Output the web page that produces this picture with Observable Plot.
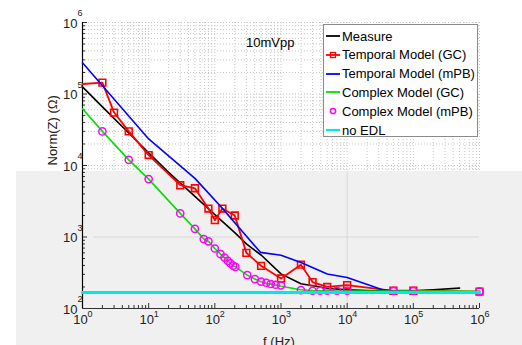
<!DOCTYPE html>
<html><head><meta charset="utf-8">
<script src="https://cdn.jsdelivr.net/npm/d3@7"></script>
<script src="https://cdn.jsdelivr.net/npm/@observablehq/plot@0.6"></script>
<style>
body{margin:0;background:#fff;font-family:"Liberation Sans",Arial,Helvetica,sans-serif;}
#wrap{position:relative;width:522px;height:345px;overflow:hidden;}
#gray{position:absolute;left:16px;top:171px;right:0;bottom:0;background:#f0f0f0;}
#chart{position:absolute;left:0;top:0;}
#title{position:absolute;left:246px;top:35px;font-size:13px;line-height:16px;color:#000;}
#legend{position:absolute;left:323px;top:24px;width:153px;height:111px;background:#fff;border:1px solid #8a8a8a;}
.row{position:absolute;left:2px;height:18px;display:flex;align-items:center;font-size:13px;color:#000;white-space:nowrap;}
.row svg{margin-right:2px;}
</style></head><body>
<div id="wrap"><div id="gray"></div><div id="chart"></div><div id="title">10mVpp</div><div id="legend"></div></div>
<script>
// ---- data ----
const measureF = [1, 2, 5, 10, 20, 50, 100, 200, 300, 500, 1000, 2000, 5000, 1e4, 2e4, 5e4, 1e5, 2e5, 5e5];
const measureZ = [1.26e5, 6.6e4, 2.85e4, 1.5e4, 8000, 3700, 2050, 1150, 800, 560, 305, 222, 192, 182, 178, 176, 177, 183, 193];

const tgcF = [1, 2, 3, 5, 10, 30, 50, 80, 100, 130, 200, 300, 500, 1000, 2000, 3000, 5000, 1e4, 5e4, 1e5, 1e6];
const tgcZ = [1.38e5, 1.44e5, 5.5e4, 3.0e4, 1.4e4, 5300, 4800, 2500, 1720, 2500, 2000, 600, 395, 263, 410, 234, 200, 212, 177, 177, 172];

const tmpbF = [1, 10, 50, 120, 490, 1000, 2000, 5000, 1e4, 3.5e4, 5e4, 1e5];
const tmpbZ = [2.73e5, 2.35e4, 6600, 2730, 610, 555, 440, 303, 272, 182, 177, 176];

const cgcF = [1, 2, 5, 10, 30, 50, 68, 80, 100, 122, 140, 157, 172, 189, 204, 309, 403, 500, 600, 700, 830, 1000, 2000, 3000, 3900, 5000, 7000, 1e4, 5e4, 1e5, 1e6];
const cgcZ = [6.2e4, 3.0e4, 1.2e4, 6450, 2140, 1300, 935, 870, 690, 575, 515, 464, 427, 397, 382, 293, 258, 236, 226, 219, 213, 205, 183, 178, 177, 177, 176, 176, 175, 175, 174];

const cmpbF = [2, 5, 10, 30, 50, 68, 80, 100, 122, 140, 157, 172, 189, 204, 309, 403, 500, 600, 700, 830, 1000, 2000, 3000, 3900, 5000, 7000, 1e4, 5e4, 1e5, 1e6];
const cmpbZ = [3.0e4, 1.2e4, 6450, 2140, 1300, 935, 870, 690, 575, 515, 464, 427, 397, 382, 293, 258, 238, 229, 220, 215, 211, 181, 177, 177, 177, 177, 177, 176, 176, 174];

const noEdlF = [1, 1e6];
const noEdlZ = [168, 168];

const legendLabels = ["Measure", "Temporal Model (GC)", "Temporal Model (mPB)", "Complex Model (GC)", "Complex Model (mPB)", "no EDL"];
const legendColors = ["#000000", "#ff0000", "#0000ff", "#00e000", "#ff00ff", "#00e8e8"];
const xExponents = [0, 1, 2, 3, 4, 5, 6];
const yExponents = [2, 3, 4, 5, 6];
const titleText = "10mVpp";
const xLabel = "f (Hz)";
const yLabel = "Norm(Z) (\u03A9)";

// ---- build ----
const zip = (F, Z) => F.map((f, i) => ({f, z: Z[i]}));
const measure = zip(measureF, measureZ);
const tgc = zip(tgcF, tgcZ);
const tmpb = zip(tmpbF, tmpbZ);
const cgc = zip(cgcF, cgcZ);
const cmpb = zip(cmpbF, cmpbZ);
const noEdl = zip(noEdlF, noEdlZ);

const xMajor = xExponents.map(e => 10 ** e);
const yMajor = yExponents.map(e => 10 ** e);
const xMinor = [];
for (let e = 0; e < 6; e++) for (let m = 2; m <= 9; m++) xMinor.push(m * 10 ** e);
const yMinor = [];
for (let e = 2; e < 6; e++) for (let m = 2; m <= 9; m++) yMinor.push(m * 10 ** e);
const grayTop = 8200; // grid only visible above this (white region)

const font = "Liberation Sans, Arial, Helvetica, sans-serif";
const gridStyle = {stroke: "#c6c6c6", strokeDasharray: "1,2", strokeWidth: 1};

const chart = Plot.plot({
  width: 522, height: 345,
  marginLeft: 82, marginRight: 43, marginTop: 22, marginBottom: 37,
  x: {type: "log", domain: [1, 1e6], axis: null},
  y: {type: "log", domain: [100, 1e6], axis: null},
  style: {background: "transparent", fontFamily: font, overflow: "visible"},
  marks: [
    Plot.ruleX([...xMajor, ...xMinor], {y1: 1e6, y2: grayTop, ...gridStyle}),
    Plot.ruleY([...yMajor, ...yMinor].filter(v => v >= grayTop), {x1: 1, x2: 1e6, ...gridStyle}),
    Plot.ruleY([1000], {x1: 1.5, x2: 1e6, stroke: "#d8d8d8"}),
    Plot.ruleX([1e4], {y1: 100, y2: grayTop, stroke: "#d8d8d8"}),
    Plot.axisX(xMinor, {anchor: "bottom", tickSize: -3, tickFormat: () => "", label: null, stroke: "#333"}),
    Plot.axisX(xMajor, {anchor: "bottom", tickSize: -5, tickFormat: () => "", label: null, stroke: "#333"}),
    Plot.axisY(yMinor, {anchor: "left", tickSize: -3, tickFormat: () => "", label: null, stroke: "#333"}),
    Plot.axisY(yMajor, {anchor: "left", tickSize: -5, tickFormat: () => "", label: null, stroke: "#333"}),
    Plot.ruleY([100], {stroke: "#333", strokeWidth: 1.2}),
    Plot.ruleX([1], {stroke: "#000", strokeWidth: 1.2}),
    Plot.line(measure, {x: "f", y: "z", stroke: legendColors[0], strokeWidth: 1.6}),
    Plot.line(tgc, {x: "f", y: "z", stroke: legendColors[1], strokeWidth: 1.8}),
    Plot.dot(tgc.filter(d => d.f > 1), {x: "f", y: "z", symbol: "square", r: 3.8, stroke: legendColors[1], strokeWidth: 1.6, fill: "none"}),
    Plot.line(tmpb, {x: "f", y: "z", stroke: legendColors[2], strokeWidth: 1.6}),
    Plot.line(cgc, {x: "f", y: "z", stroke: legendColors[3], strokeWidth: 1.6}),
    Plot.dot(cmpb, {x: "f", y: "z", symbol: "circle", r: 3.6, stroke: legendColors[4], strokeWidth: 1.5, fill: "none"}),
    Plot.line(noEdl, {x: "f", y: "z", stroke: legendColors[5], strokeWidth: 3}),
    // tick labels: 10 with superscript exponent
    Plot.text(xMajor, {x: d => d, frameAnchor: "bottom", dx: -2, dy: 15, text: () => "10", fontSize: 13, fill: "#222"}),
    Plot.text(xExponents, {x: e => 10 ** e, frameAnchor: "bottom", dx: 7.5, dy: 8, text: e => String(e), fontSize: 9, fill: "#222"}),
    Plot.text(yMajor, {y: d => d, frameAnchor: "left", textAnchor: "end", dx: -5, dy: 1, text: () => "10", fontSize: 13, fill: "#222"}),
    Plot.text(yExponents, {y: e => 10 ** e, frameAnchor: "left", textAnchor: "start", dx: -5, dy: -9, text: e => String(e), fontSize: 9, fill: "#222"}),
    Plot.text([yLabel], {frameAnchor: "left", rotate: -90, dx: -30, text: d => d, fontSize: 13, fill: "#222"}),
    Plot.text([xLabel], {frameAnchor: "bottom", lineAnchor: "top", dy: 28, dx: -2, text: d => d, fontSize: 13, fill: "#222"})
  ]
});
document.getElementById("chart").appendChild(chart);
document.getElementById("title").textContent = titleText;

// legend
const leg = document.getElementById("legend");
const rowTops = [2, 20.5, 39.5, 58, 77, 96];
legendLabels.forEach((lab, i) => {
  const row = document.createElement("div");
  row.className = "row";
  row.style.top = rowTops[i] + "px";
  const c = legendColors[i];
  let sw;
  if (i === 4) {
    sw = `<circle cx="7" cy="5" r="2.6" fill="none" stroke="${c}" stroke-width="1.5"/>`;
  } else if (i === 1) {
    sw = `<line x1="0" y1="5" x2="14" y2="5" stroke="${c}" stroke-width="1.8"/><rect x="4.5" y="2.5" width="5" height="5" fill="none" stroke="${c}" stroke-width="1.3"/>`;
  } else {
    sw = `<line x1="0" y1="5" x2="14" y2="5" stroke="${c}" stroke-width="${i === 5 ? 2.2 : 1.8}"/>`;
  }
  row.innerHTML = `<svg width="14" height="10">${sw}</svg><span>${lab}</span>`;
  leg.appendChild(row);
});
</script>
</body></html>
